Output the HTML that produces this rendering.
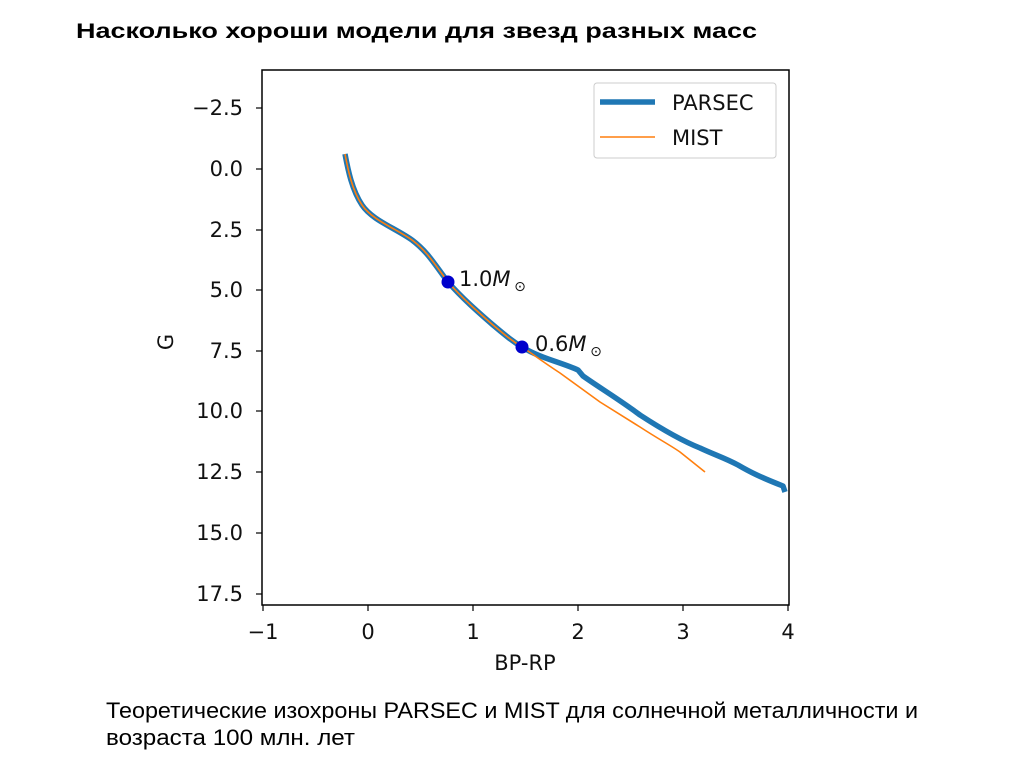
<!DOCTYPE html>
<html><head><meta charset="utf-8"><style>
body{margin:0;background:#fff;width:1024px;height:767px;overflow:hidden;font-family:"Liberation Sans","DejaVu Sans",sans-serif}
</style></head><body>
<svg width="1024" height="767" xmlns="http://www.w3.org/2000/svg" style="position:absolute;left:0;top:0">
<text x="76" y="38" font-family="Liberation Sans, sans-serif" font-weight="bold" font-size="21" textLength="681" lengthAdjust="spacingAndGlyphs">Насколько хороши модели для звезд разных масс</text>
<rect x="262" y="70" width="527" height="535" fill="none" stroke="#000" stroke-width="1.5"/>
<g font-family="DejaVu Sans, sans-serif" font-size="21" fill="#111">
<g stroke="#000" stroke-width="1.2">
<line x1="263" y1="605" x2="263" y2="611"/><line x1="368" y1="605" x2="368" y2="611"/><line x1="473" y1="605" x2="473" y2="611"/><line x1="578" y1="605" x2="578" y2="611"/><line x1="683" y1="605" x2="683" y2="611"/><line x1="788" y1="605" x2="788" y2="611"/>
<line x1="256" y1="108" x2="262" y2="108"/><line x1="256" y1="169" x2="262" y2="169"/><line x1="256" y1="230" x2="262" y2="230"/><line x1="256" y1="290" x2="262" y2="290"/><line x1="256" y1="351" x2="262" y2="351"/><line x1="256" y1="411" x2="262" y2="411"/><line x1="256" y1="472" x2="262" y2="472"/><line x1="256" y1="533" x2="262" y2="533"/><line x1="256" y1="594" x2="262" y2="594"/>
</g>
<g text-anchor="middle"><text x="263" y="639">−1</text><text x="368" y="639">0</text><text x="473" y="639">1</text><text x="578" y="639">2</text><text x="683" y="639">3</text><text x="788" y="639">4</text>
<text x="525" y="670">BP-RP</text></g>
<g text-anchor="end"><text x="243" y="115">−2.5</text><text x="243" y="176">0.0</text><text x="243" y="237">2.5</text><text x="243" y="297">5.0</text><text x="243" y="358">7.5</text><text x="243" y="418">10.0</text><text x="243" y="479">12.5</text><text x="243" y="540">15.0</text><text x="243" y="601">17.5</text></g>
<text transform="translate(173,342) rotate(-90)" text-anchor="middle">G</text>
</g>
<path d="M345,154 C348,170 352,190 362,205 C372,220 395,228 412,240 C428,252 435,265 448,282 C462,298 478,312 493,325 C505,335 512,341 522,347 C540,358 560,362 578,370 L583,376 C600,388 620,400 640,415 C660,428 680,440 700,448 C715,455 725,458 738,465 C750,472 760,477 783,486 L785,492" fill="none" stroke="#1f77b4" stroke-width="5.5" stroke-linejoin="round"/>
<path d="M345,154 C348,170 352,190 362,205 C372,220 395,228 412,240 C428,252 435,265 448,282 C462,298 478,312 493,325 C505,335 512,341 522,347 C530,352 540,360 560,373 L600,402 L640,427 C660,440 670,445 680,452 L705,472" fill="none" stroke="#ff7f0e" stroke-width="1.6" stroke-linejoin="round"/>
<circle cx="448" cy="282" r="6.5" fill="#0000cc"/>
<circle cx="522" cy="347" r="6.5" fill="#0000cc"/>
<g font-family="DejaVu Sans, sans-serif" font-size="21" fill="#111">
<text x="459" y="286">1.0<tspan font-style="italic">M</tspan></text><text x="520" y="291" font-size="14" text-anchor="middle">⊙</text>
<text x="535" y="351">0.6<tspan font-style="italic">M</tspan></text><text x="596" y="356" font-size="14" text-anchor="middle">⊙</text>
</g>
<rect x="594" y="83" width="182" height="75" rx="3" fill="#fff" stroke="#ccc"/>
<line x1="600" y1="102" x2="655" y2="102" stroke="#1f77b4" stroke-width="5.5"/>
<line x1="600" y1="137" x2="655" y2="137" stroke="#ff7f0e" stroke-width="1.6"/>
<g font-family="DejaVu Sans, sans-serif" font-size="21" fill="#111"><text x="672" y="110">PARSEC</text><text x="672" y="145">MIST</text></g>
<g font-family="Liberation Sans, sans-serif" font-size="22" fill="#000"><text x="106" y="718" textLength="812" lengthAdjust="spacingAndGlyphs">Теоретические изохроны PARSEC и MIST для солнечной металличности и</text><text x="106" y="745" textLength="249" lengthAdjust="spacingAndGlyphs">возраста 100 млн. лет</text></g>
</svg>
</body></html>
